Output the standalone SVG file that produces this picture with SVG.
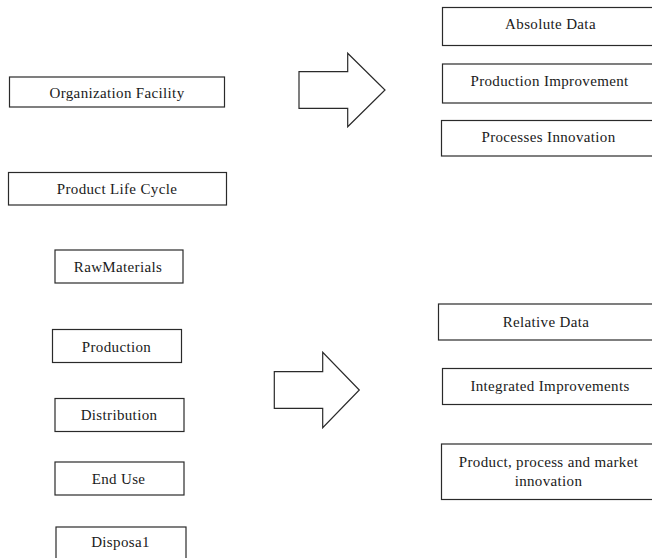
<svg xmlns="http://www.w3.org/2000/svg" width="652" height="558" viewBox="0 0 652 558">
<style>
.box{fill:#fff;stroke:#2a2a2a;stroke-width:1.2}
.arr{fill:#fff;stroke:#2a2a2a;stroke-width:1.2;stroke-linejoin:miter}
.t{font-family:'Liberation Serif','DejaVu Serif',serif;font-size:15px;letter-spacing:0.35px;fill:#1a1a1a;text-anchor:middle}
</style>
<rect width="652" height="558" fill="#fff"/>
<g font-family="Liberation Serif, DejaVu Serif, serif">
<g id="n-org"><rect class="box" x="9.5" y="77" width="215" height="30"/><text class="t" x="117" y="97.5">Organization Facility</text></g>
<g id="n-plc"><rect class="box" x="8.5" y="172.5" width="218" height="32.5"/><text class="t" x="117" y="193.5">Product Life Cycle</text></g>
<g id="n-raw"><rect class="box" x="55" y="250" width="128" height="33"/><text class="t" x="118" y="272">RawMaterials</text></g>
<g id="n-prod"><rect class="box" x="52.5" y="329.5" width="129" height="33"/><text class="t" x="116.5" y="351.5">Production</text></g>
<g id="n-dist"><rect class="box" x="55" y="398.5" width="129" height="33"/><text class="t" x="119" y="420">Distribution</text></g>
<g id="n-end"><rect class="box" x="55" y="462" width="129" height="33"/><text class="t" x="118.5" y="484">End Use</text></g>
<g id="n-disp"><rect class="box" x="56" y="527" width="130" height="40"/><text class="t" x="120.5" y="546.5">Disposa1</text></g>
<g id="n-abs"><rect class="box" x="442.5" y="7.5" width="216" height="38"/><text class="t" x="550.5" y="29">Absolute Data</text></g>
<g id="n-pimp"><rect class="box" x="442.5" y="64" width="216" height="39"/><text class="t" x="549.5" y="85.5">Production Improvement</text></g>
<g id="n-pinn"><rect class="box" x="441.5" y="120.5" width="216" height="35.5"/><text class="t" x="548.5" y="142">Processes Innovation</text></g>
<g id="n-rel"><rect class="box" x="438.5" y="304" width="218" height="36"/><text class="t" x="546" y="326.5">Relative Data</text></g>
<g id="n-int"><rect class="box" x="442.5" y="368.5" width="216" height="36"/><text class="t" x="550" y="391">Integrated Improvements</text></g>
<g id="n-ppm"><rect class="box" x="441.5" y="444" width="216" height="55.5"/><text class="t" x="548.5" y="467">Product, process and market</text><text class="t" x="548.5" y="485.5">innovation</text></g>
</g>
<g id="connectors">
<path class="arr" d="M299,71.7 H347.7 V53.3 L385,90 L347.7,126.7 V108.3 H299 Z"/>
<path class="arr" d="M274.3,371.7 H322.7 V352.3 L359.3,390 L322.7,427.7 V408.3 H274.3 Z"/>
</g>
</svg>
